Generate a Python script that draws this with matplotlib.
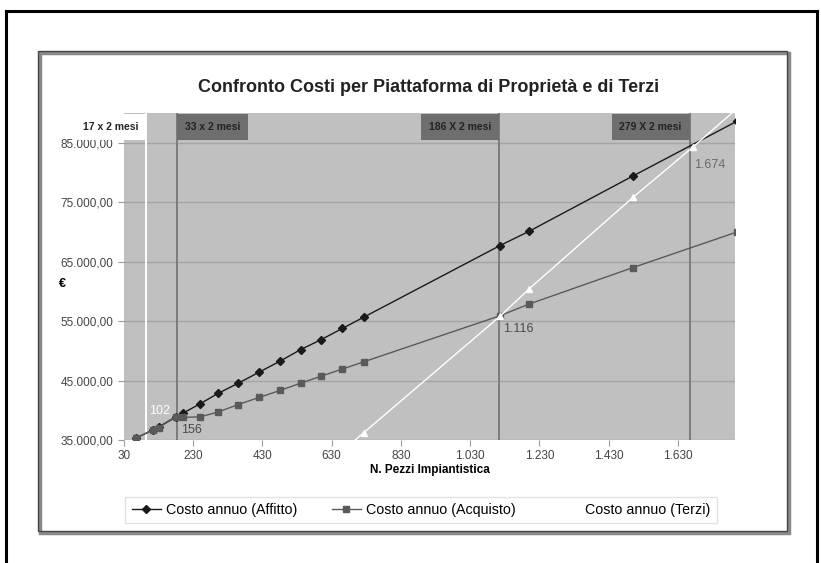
import numpy as np
import matplotlib
matplotlib.use("Agg")
import matplotlib.pyplot as plt
from matplotlib.lines import Line2D
from matplotlib.patches import Rectangle
from matplotlib.ticker import FuncFormatter

plt.rcParams['font.family'] = ['Liberation Sans', 'DejaVu Sans']

# Data
pezzi = [65, 114, 130, 180, 200, 250, 302, 360, 421, 482, 540, 600, 661, 722,
         1116, 1200, 1500, 1800]
affitto = [35340, 36700, 37200, 38900, 39500, 41100, 42850, 44550, 46430, 48300,
           50200, 51900, 53770, 55640, 67700, 70100, 79400, 88600]
acquisto = [35340, 36700, 37100, 38850, 38800, 38900, 39700, 40970, 42170, 43360,
            44550, 45750, 46940, 48140, 55900, 57860, 64000, 69970]
pezzi_terzi = [660, 722, 1116, 1200, 1500, 1674, 1800]
terzi = [33100, 36200, 55800, 60400, 75800, 84300, 90700]

# Break-even lines and their labels
soglie = [94, 183, 1114, 1664]
soglie_lab = ["102", "156", "1.116", "1.674"]
periodi = ["17 x 2 mesi", "33 x 2 mesi", "186 X 2 mesi", "279 X 2 mesi"]

x_ticks = [30, 230, 430, 630, 830, 1030, 1230, 1430, 1630]
y_ticks = [35000, 45000, 55000, 65000, 75000, 85000]


def it_num(v, dec=0):
    s = f"{v:,.{dec}f}"
    return s.replace(",", "X").replace(".", ",").replace("X", ".")


fig = plt.figure(figsize=(8.21, 5.63), dpi=100)
W, H = 821, 563

# outer black frame (open at the bottom) and inner chart frame
for (x0, y0, x1, y1) in [(6, 563, 6, 11), (6, 11, 817, 11), (817, 11, 817, 563)]:
    fig.add_artist(Line2D([x0 / W, x1 / W], [1 - y0 / H, 1 - y1 / H],
                          color='black', lw=2.2, transform=fig.transFigure))
fig.add_artist(Rectangle((40 / W, 1 - 533 / H), 749 / W, 480 / H, fill=False,
                         ec='#8a8a8a', lw=2.5, transform=fig.transFigure))
fig.add_artist(Rectangle((38 / W, 1 - 531 / H), 749 / W, 480 / H, fill=False,
                         ec='#444444', lw=1.0, transform=fig.transFigure))

ax = fig.add_axes([124 / W, 1 - 440 / H, (735 - 124) / W, (440 - 113) / H])
ax.set_facecolor('#c0c0c0')
ax.set_xlim(30, 1795)
ax.set_ylim(35000, 90000)
for s in ax.spines.values():
    s.set_visible(False)

ax.set_yticks(y_ticks)
ax.set_xticks(x_ticks)
ax.yaxis.set_major_formatter(FuncFormatter(lambda v, p: it_num(v, 2)))
ax.xaxis.set_major_formatter(FuncFormatter(lambda v, p: it_num(v)))
ax.tick_params(axis='both', labelsize=8.5, colors='#9a9a9a', labelcolor='#444444',
               length=4, width=0.8)
ax.grid(axis='y', color='#a4a4a4', lw=1.0)
ax.set_axisbelow(True)

# vertical break-even lines
vcols = ['white', '#7c7c7c', '#7c7c7c', '#7c7c7c']
for xv, c in zip(soglie, vcols):
    ax.axvline(xv, color=c, lw=1.4, zorder=1.5)

ax.plot(pezzi, affitto, color='#1a1a1a', lw=1.0, marker='D', ms=4.5,
        mfc='#1a1a1a', mec='#1a1a1a', label='Costo annuo (Affitto)', zorder=3)
ax.plot(pezzi, acquisto, color='#5a5a5a', lw=1.0, marker='s', ms=4.5,
        mfc='#5a5a5a', mec='#5a5a5a', label='Costo annuo (Acquisto)', zorder=3)
ax.plot(pezzi_terzi, terzi, color='white', lw=1.0, marker='^', ms=5,
        mfc='white', mec='white', label='Costo annuo (Terzi)', zorder=3.5)

# break-even values
ax.text(soglie[0] + 8, 39950, soglie_lab[0], color='white', fontsize=9,
        ha='left', va='center', zorder=4)
ax.text(soglie[1] + 12, 36700, soglie_lab[1], color='#4a4a4a', fontsize=9,
        ha='left', va='center', zorder=4)
ax.text(soglie[2] + 12, 53600, soglie_lab[2], color='#4a4a4a', fontsize=9,
        ha='left', va='center', zorder=4)
ax.text(soglie[3] + 12, 81300, soglie_lab[3], color='#6a6a6a', fontsize=9,
        ha='left', va='center', zorder=4)

# period boxes at the top, edge of the box on the line
ybox = 0.957
box_style = [('white', 'right'), ('#6e6e6e', 'left'), ('#6e6e6e', 'right'),
             ('#6e6e6e', 'right')]
for xv, lab, (fc, ha) in zip(soglie, periodi, box_style):
    dx = -5.6 if ha == 'right' else 5.6
    ax.annotate(lab, xy=(xv, ybox), xycoords=ax.get_xaxis_transform(),
                xytext=(dx, 0), textcoords='offset points', ha=ha, va='center',
                fontsize=7.5, fontweight='bold', color='#222222',
                annotation_clip=False, zorder=5,
                bbox=dict(boxstyle='square,pad=0.75', fc=fc, ec='none'))

ax.set_xlabel('N. Pezzi Impiantistica', fontsize=8.5, fontweight='bold', labelpad=1)
ax.set_ylabel('€', fontsize=9, fontweight='bold', rotation=0, labelpad=0)
ax.yaxis.set_label_coords(-0.1, 0.46)

fig.text(429 / W, 1 - 88 / H, 'Confronto Costi per Piattaforma di Proprietà e di Terzi',
         ha='center', va='center', fontsize=13, fontweight='bold', color='#222222')

leg = fig.legend(loc='center', bbox_to_anchor=(421 / W, 1 - 510 / H), ncol=3,
                 fontsize=10.3, frameon=True, fancybox=False, edgecolor='#dddddd',
                 handlelength=2.0, handletextpad=0.4, columnspacing=2.4,
                 borderpad=0.45)
leg.get_frame().set_linewidth(1.0)

fig.savefig('out.png', dpi=100)
